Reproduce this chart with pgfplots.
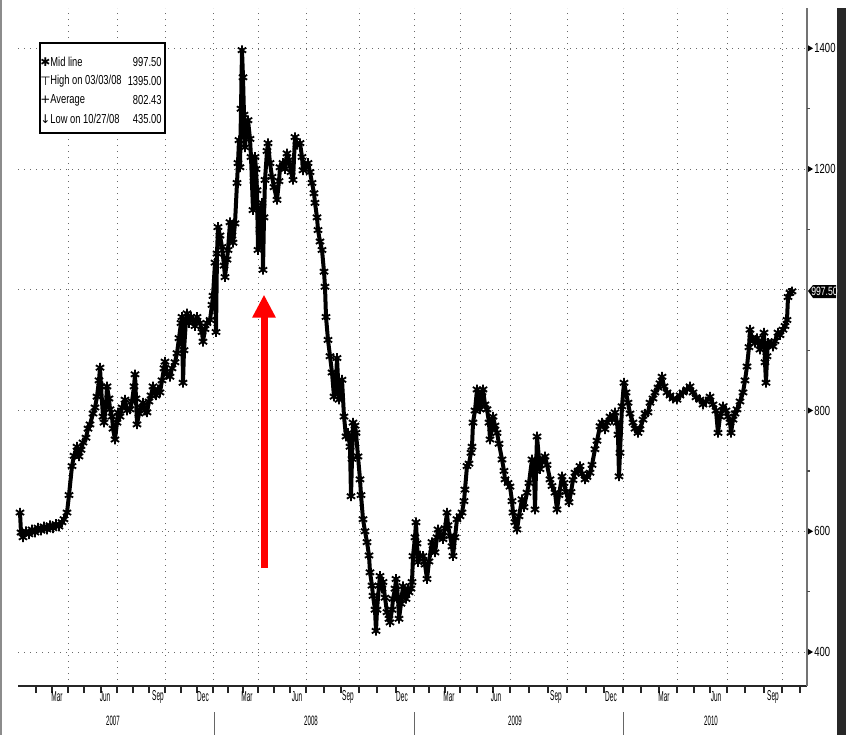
\documentclass[border=0pt]{standalone}
\usepackage{fontspec}
\setmainfont{Liberation Sans}
\newfontfamily\axf[FakeStretch=0.45]{Liberation Sans}
\newfontfamily\legf[FakeStretch=0.72]{Liberation Sans}
\newfontfamily\sym{DejaVu Sans}
\usepackage{pgfplots}
\pgfplotsset{compat=1.18}
\usetikzlibrary{arrows.meta}
\definecolor{gridgray}{RGB}{105,105,105}
\definecolor{bar}{RGB}{40,40,40}

% index = position along the trading-day axis, price in USD
\pgfplotstableread{
idx price
20 631
21 598
23 590
26 600
29 595
32 603
35 598
38 606
41 601
44 608
47 603
50 610
53 605
56 612
59 608
62 615
64 620
67 631
69 660
72 708
74 725
77 740
79 724
81 735
83 747
86 755
88 770
90 777
93 795
95 805
97 823
99 850
100 871
101 840
103 790
104 780
106 810
107 840
109 820
110 802
112 790
113 770
115 752
117 780
118 797
120 790
122 805
125 818
127 800
130 802
132 815
134 840
135 860
136 820
137 777
139 795
141 805
143 813
145 800
147 797
149 815
151 825
153 840
156 825
158 835
160 830
162 850
164 870
165 881
167 860
170 856
172 870
175 880
177 895
179 920
181 945
182 955
183 846
184 900
186 950
187 961
189 945
191 955
193 950
195 940
197 955
200 945
202 930
203 914
205 935
207 945
210 950
212 975
213 990
215 1045
216 930
217 1060
218 1104
220 1090
222 1071
224 1040
225 1021
227 1050
228 1066
230 1112
232 1090
233 1078
235 1110
237 1177
238 1210
239 1248
240 1203
241 1300
242 1397
243 1352
244 1290
245 1236
246 1260
248 1281
250 1250
251 1220
253 1132
254 1180
255 1220
256 1200
257 1165
258 1066
260 1100
262 1144
263 1033
264 1120
265 1182
267 1230
268 1243
270 1210
272 1187
274 1170
277 1149
279 1180
280 1203
283 1210
285 1200
287 1226
289 1215
291 1195
293 1182
295 1253
297 1240
300 1243
302 1220
303 1198
305 1205
308 1210
310 1195
312 1177
314 1160
315 1144
317 1120
318 1099
320 1080
322 1066
324 1030
325 1005
326 955
328 917
330 890
332 863
334 823
336 850
337 887
339 818
342 851
344 790
346 757
348 763
350 740
351 658
352 720
353 780
355 775
356 763
358 724
360 686
361 660
363 620
365 600
367 582
369 560
370 532
372 510
373 493
375 470
376 435
377 470
379 510
380 526
382 505
383 516
385 490
387 466
389 455
390 449
392 470
393 488
395 505
396 521
398 490
399 455
401 480
403 509
405 495
406 488
408 505
409 499
411 505
412 516
413 559
415 590
416 615
417 580
418 549
420 560
423 559
425 545
427 521
429 550
432 582
433 570
435 565
437 590
438 603
440 595
443 587
445 605
447 631
448 610
450 592
452 575
453 559
455 590
457 620
460 625
462 631
464 650
465 669
467 708
469 712
471 730
472 740
473 780
475 800
477 835
479 815
480 802
482 830
483 835
485 810
487 802
489 780
490 752
492 770
493 790
495 775
497 763
499 745
502 719
504 700
505 686
508 680
510 674
512 650
513 631
515 615
517 603
519 625
522 653
524 640
527 664
529 680
532 719
534 700
535 636
536 700
537 757
539 720
540 703
542 715
545 724
547 710
550 686
552 675
555 664
557 636
559 660
562 691
564 680
566 665
569 648
571 665
573 685
575 697
578 700
580 708
582 695
585 686
587 690
590 697
592 710
595 736
597 750
600 774
602 780
605 769
607 780
610 790
612 785
615 797
617 780
618 760
619 691
620 730
622 807
624 846
626 830
628 813
630 795
633 780
635 770
638 763
640 769
643 785
645 795
648 797
650 813
653 820
655 830
658 838
660 845
662 856
664 840
667 830
670 825
673 820
677 818
680 825
683 830
687 835
690 840
693 830
696 822
700 818
703 810
706 815
710 823
713 810
716 800
718 763
720 790
723 807
726 800
728 790
730 780
731 763
733 785
735 795
737 802
740 815
743 830
745 850
747 873
749 905
750 934
752 920
755 912
757 920
760 901
762 915
764 929
765 880
766 846
767 890
768 912
770 910
773 906
775 915
778 929
780 925
783 934
785 940
787 950
788 988
790 995
792 997.5
}\prices

\begin{document}
\begin{tikzpicture}
\begin{axis}[
  scale only axis, width=394.5pt, height=339pt,
  xmin=18, xmax=807, ymin=343.7, ymax=1466.8,
  axis x line*=bottom, axis y line*=right,
  x axis line style={-, black!85, line width=1pt},
  y axis line style={-, black!55, line width=1pt},
  clip=false,
  xtick={68,117,165,213,258,306,359,414,460,510,567,623,677,727,782},
  minor xtick={36,52,84,101,133,149,181,197,228,243,274,290,324,341,377,396,429,445,477,493,529,548,586,604,641,659,694,710,745,764,800},
  xticklabels={}, yticklabels={},
  xtick align=outside,
  major tick length=3.5pt, minor tick length=3.5pt,
  xtick style={black!85, line width=0.6pt},
  ytick={400,600,...,1400},
  ytick style={draw=none},
  grid=major,
  major grid style={gridgray, line width=0.5pt, dash pattern=on 0.6pt off 2.4pt},
]
\addplot[black, line width=2pt, line join=round, mark=asterisk, mark size=2.4pt,
  mark options={line width=0.9pt}] table[x=idx, y=price] {\prices};

% red arrow
\draw[red, line width=3.5pt, -{Triangle[length=11.5pt, width=11pt]}]
  (axis cs:264,539) -- (axis cs:264,992);
\end{axis}

\begin{scope}[x=0.5pt, y=-0.5pt, shift={(-18,-686)}]
  % frame bits
  \draw[black!45, line width=1pt] (1,0) -- (1,735);
  \fill[bar] (837,8) rectangle (846,735);
  % right-hand tick labels
  \foreach \yy/\v in {48.3/1400, 169.0/1200, 410.5/800, 531.3/600, 652.0/400} {
    \fill (808,\yy-3) -- (813,\yy) -- (808,\yy+3) -- cycle;
    \node[anchor=west, inner sep=0pt, font=\legf\fontsize{6.6}{6.6}\selectfont] at (814,\yy) {\v};
  }
  \foreach \yy in {108.7, 229.4, 350.2, 471.0, 591.6}
    \draw[black!70, line width=0.6pt] (807,\yy) -- (810,\yy);
  % last price tag
  \fill[black] (808,291) -- (813,285) -- (836,285) -- (836,298) -- (813,298) -- cycle;
  \node[white, inner sep=0pt, font=\legf\fontsize{6}{6}\selectfont] at (824.5,291.5) {997.50};
  % month labels
  \foreach \x/\m in {57/Mar,105/Jun,158/Sep,203/Dec,247/Mar,297/Jun,348/Sep,402/Dec,449/Mar,496/Jun,556/Sep,611/Dec,664/Mar,716/Jun,773/Sep}
    \node[inner sep=0pt, font=\axf\fontsize{7.2}{7.2}\selectfont] at (\x,697) {\m};
  % year labels and separators
  \foreach \x/\y in {113/2007,311/2008,515/2009,711/2010}
    \node[inner sep=0pt, font=\axf\fontsize{6.8}{6.8}\selectfont] at (\x,721) {\y};
  \foreach \x in {214,414,623}
    \draw[black!60, line width=0.5pt] (\x,712) -- (\x,735);
  % legend box
  \draw[black, line width=0.8pt, fill=white] (40,43) rectangle (165,133);
  \foreach \yy/\s/\t/\v in {62/{\sym ✱}/{Mid line}/{997.50}, 81/{\sym ⊤}/{High on 03/03/08}/{1395.00}, 100/{\sym +}/{Average}/{802.43}, 119/{\sym ↓}/{Low on 10/27/08}/{435.00}} {
    \node[inner sep=0pt, font=\fontsize{6}{6}\selectfont] at (45.5,\yy) {\s};
    \node[anchor=west, inner sep=0pt, font=\legf\fontsize{6.5}{6.5}\selectfont] at (50,\yy) {\t};
    \node[anchor=east, inner sep=0pt, font=\legf\fontsize{6.5}{6.5}\selectfont] at (162,\yy) {\v};
  }
  \pgfresetboundingbox
  \useasboundingbox (0,0) rectangle (846,735);
\end{scope}
\end{tikzpicture}
\end{document}
